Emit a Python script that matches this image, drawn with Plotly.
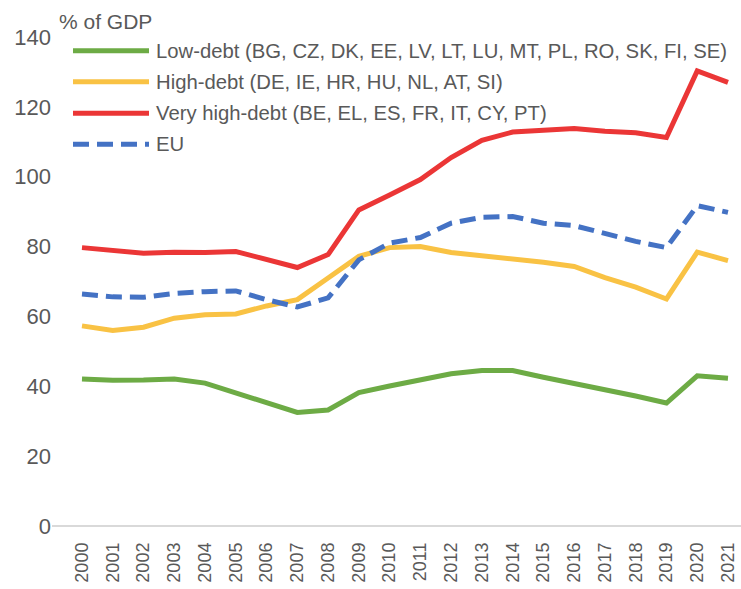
import plotly.graph_objects as go


YEARS = [str(y) for y in range(2000, 2022)]

LOW_DEBT = [42.1, 41.7, 41.8, 42.1, 40.9, 38.2, 35.3, 32.5, 33.2, 38.2, 40.1,
            41.8, 43.6, 44.5, 44.5, 42.6, 40.9, 39.0, 37.2, 35.2, 43.0, 42.3]
HIGH_DEBT = [57.3, 56.0, 56.9, 59.5, 60.5, 60.7, 63.0, 64.8, 71.0, 77.2, 79.7,
             80.0, 78.3, 77.4, 76.4, 75.5, 74.3, 71.1, 68.4, 65.0, 78.4, 76.0]
VERY_HIGH_DEBT = [79.7, 78.9, 78.1, 78.4, 78.3, 78.6, 76.2, 74.0, 77.7, 90.5, 94.8,
                  99.2, 105.5, 110.4, 112.8, 113.3, 113.8, 113.0, 112.6, 111.2, 130.3, 127.0]
EU = [66.4, 65.6, 65.5, 66.6, 67.1, 67.3, 64.8, 62.7, 65.3, 76.2, 81.0,
      82.6, 86.7, 88.4, 88.6, 86.7, 86.0, 83.6, 81.5, 79.7, 91.7, 89.8]

SERIES_NAMES = [
    "Low-debt (BG, CZ, DK, EE, LV, LT, LU, MT, PL, RO, SK, FI, SE)",
    "High-debt (DE, IE, HR, HU, NL, AT, SI)",
    "Very high-debt (BE, EL, ES, FR, IT, CY, PT)",
    "EU",
]

Y_TICKS = [0, 20, 40, 60, 80, 100, 120, 140]

COLORS = ["#6DAB45", "#F9C244", "#EB3636", "#4472C4"]
DASHES = ["solid", "solid", "solid", "16px,8px"]

FONT = "Liberation Sans, Arial, sans-serif"
TEXT_COLOR = "#595959"

W, H = 741, 589
MARGIN = {"l": 52, "r": 0, "t": 37, "b": 63}


def _paper_x(px: float) -> float:
    return (px - MARGIN["l"]) / (W - MARGIN["l"] - MARGIN["r"])


def _paper_y(px: float) -> float:
    return (H - MARGIN["b"] - px) / (H - MARGIN["t"] - MARGIN["b"])


fig = go.Figure()
for name, values, color, dash in zip(
    SERIES_NAMES, [LOW_DEBT, HIGH_DEBT, VERY_HIGH_DEBT, EU], COLORS, DASHES
):
    fig.add_trace(
        go.Scatter(
            x=YEARS,
            y=values,
            name=name,
            mode="lines",
            line={"color": color, "width": 5, "dash": dash},
            showlegend=False,
        )
    )

# hand-drawn legend so the sample lines are as long as in the original
legend_rows = [50.7, 81.7, 113.3, 144.3]
for name, color, dash, row in zip(SERIES_NAMES, COLORS, DASHES, legend_rows):
    fig.add_shape(
        type="line",
        xref="paper", yref="paper",
        x0=_paper_x(73), x1=_paper_x(149),
        y0=_paper_y(row), y1=_paper_y(row),
        opacity=1,
        line={"color": color, "width": 5, "dash": dash},
    )
    fig.add_annotation(
        text=name,
        xref="paper", yref="paper",
        x=_paper_x(154), y=_paper_y(row),
        xanchor="left", yanchor="middle",
        showarrow=False,
        font={"size": 20.3, "color": TEXT_COLOR, "family": FONT},
    )

fig.add_annotation(
    text="% of GDP",
    xref="paper", yref="paper",
    x=_paper_x(57), y=_paper_y(22),
    xanchor="left", yanchor="middle",
    showarrow=False,
    font={"size": 21, "color": TEXT_COLOR, "family": FONT},
)

fig.update_layout(
    width=W,
    height=H,
    margin=MARGIN,
    template="simple_white",
    paper_bgcolor="white",
    plot_bgcolor="white",
    font={"family": FONT, "color": TEXT_COLOR},
    showlegend=False,
    xaxis={
        "type": "category",
        "range": [-0.975, 21.423],
        "showline": False,
        "ticks": "",
        "tickangle": -90,
        "tickfont": {"size": 18, "color": TEXT_COLOR},
        "ticklabelstandoff": 12,
        "showgrid": False,
    },
    yaxis={
        "range": [0, 140],
        "tickvals": Y_TICKS,
        "showline": False,
        "ticks": "",
        "tickfont": {"size": 22, "color": TEXT_COLOR},
        "showgrid": False,
        "zeroline": True,
        "zerolinecolor": "#D9D9D9",
        "zerolinewidth": 2,
    },
)

# drop the browser's default body margin so the figure sits at the page corner
fig.write_html(
    "out.html",
    config={"displayModeBar": False},
    post_script="document.body.style.margin = '0';",
)
